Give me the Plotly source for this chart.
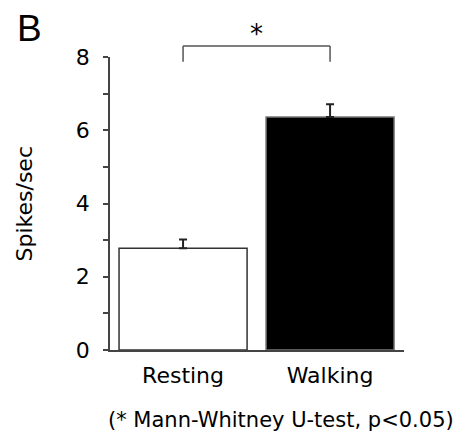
import plotly.graph_objects as go

# ---- data ----
categories = ["Resting", "Walking"]
means = [2.78, 6.36]
sem_upper = [0.24, 0.35]
sem_lower = [0, 0]
bar_fill = ["white", "black"]
bar_edge = ["#333333", "#777777"]
y_tickvals = [0, 1, 2, 3, 4, 5, 6, 7, 8]
y_ticktext = ["0", "", "2", "", "4", "", "6", "", "8"]
y_title = "Spikes/sec"
panel_label = "B"
sig_label = "*"
footnote = "(* Mann-Whitney U-test, p<0.05)"
bracket_foot = 7.87   # data units
bracket_top = 8.30    # data units
sig_y = 8.62          # data units

Y_MAX = 8.0
FONT = "DejaVu Sans, Liberation Sans, Arial, sans-serif"
FS = 22

fig = go.Figure()
fig.add_trace(go.Bar(
    x=categories, y=means, width=0.871,
    marker=dict(color=bar_fill, line=dict(color=bar_edge, width=1.5)),
    error_y=dict(type="data", symmetric=False, array=sem_upper,
                 arrayminus=sem_lower, thickness=2, width=4, color="#222222"),
    showlegend=False,
))

def py(v):
    return v / Y_MAX

shape_line = dict(color="#555555", width=1.5)
fig.add_shape(type="line", xref="x", yref="paper", x0=0, x1=0,
              y0=py(bracket_foot), y1=py(bracket_top), line=shape_line)
fig.add_shape(type="line", xref="x", yref="paper", x0=0, x1=1,
              y0=py(bracket_top), y1=py(bracket_top), line=shape_line)
fig.add_shape(type="line", xref="x", yref="paper", x0=1, x1=1,
              y0=py(bracket_foot), y1=py(bracket_top), line=shape_line)

fig.add_annotation(x=0.5, y=py(sig_y), xref="x", yref="paper", text=sig_label,
                   showarrow=False, font=dict(size=26, family=FONT, color="black"),
                   yanchor="middle")
fig.add_annotation(x=(15 - 110) / 294, y=(350 - 6) / 293, xref="paper", yref="paper",
                   text=panel_label, showarrow=False,
                   font=dict(size=37, family="Liberation Sans, Arial, sans-serif", color="black"),
                   xanchor="left", yanchor="top")
fig.add_annotation(text=y_title, textangle=-90, showarrow=False,
                   font=dict(size=FS, family=FONT, color="black"),
                   xref="paper", yref="paper", x=(24 - 110) / 294, y=0.5,
                   xanchor="center", yanchor="middle")
fig.add_annotation(text=footnote, showarrow=False,
                   font=dict(size=21, family=FONT, color="black"),
                   xref="paper", yref="paper", x=(281 - 110) / 294, y=(350 - 420) / 293,
                   xanchor="center", yanchor="middle")

fig.update_layout(
    width=462, height=439, autosize=False,
    margin=dict(l=110, r=58, t=57, b=89),
    paper_bgcolor="white", plot_bgcolor="white",
    font=dict(family=FONT, size=FS, color="black"),
)
fig.update_xaxes(range=[-0.497, 1.503], showline=True, linecolor="#444444",
                 linewidth=1.5, ticks="", showgrid=False, zeroline=False,
                 tickfont=dict(size=FS, family=FONT, color="black"),
                 ticklabelstandoff=5)
fig.update_yaxes(range=[0, Y_MAX], showline=True, linecolor="#444444",
                 linewidth=1.5, ticks="outside", ticklen=5, tickcolor="#444444",
                 tickwidth=1.5, tickvals=y_tickvals, ticktext=y_ticktext,
                 showgrid=False, zeroline=False,
                 tickfont=dict(size=FS, family=FONT, color="black"),
                 ticklabelstandoff=9)

fig.write_html("out.html")
